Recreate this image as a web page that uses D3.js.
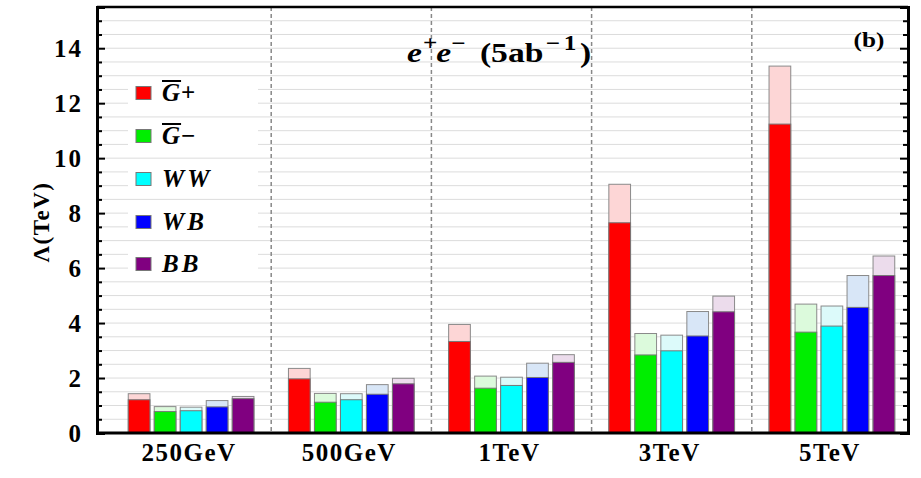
<!DOCTYPE html>
<html>
<head>
<meta charset="utf-8">
<script src="https://cdn.jsdelivr.net/npm/d3@7"></script>
<style>
  body { margin: 0; background: #fff; }
  svg { display: block; }
  svg text { font-family: "Liberation Serif", "DejaVu Serif", serif; font-weight: bold; }
</style>
</head>
<body>
<div id="chart"></div>
<script>
// collider energies (groups) and operator series
const categories = ['250GeV', '500GeV', '1TeV', '3TeV', '5TeV'];
const seriesNames = ['G+', 'G-', 'WW', 'WB', 'BB'];

// solid part of each bar (Lambda in TeV)
const lowerGplus = [1.21, 1.97, 3.33, 7.65, 11.24];
const lowerGminus = [0.78, 1.12, 1.63, 2.84, 3.67];
const lowerWW = [0.81, 1.21, 1.73, 2.99, 3.89];
const lowerWB = [0.95, 1.41, 2.02, 3.53, 4.57];
const lowerBB = [1.25, 1.79, 2.57, 4.41, 5.73];

// light part on top (upper reach)
const upperGplus = [1.43, 2.35, 3.95, 9.05, 13.35];
const upperGminus = [0.96, 1.44, 2.07, 3.62, 4.69];
const upperWW = [0.94, 1.43, 2.03, 3.56, 4.62];
const upperWB = [1.18, 1.76, 2.54, 4.42, 5.73];
const upperBB = [1.33, 1.99, 2.85, 4.98, 6.44];

const yTicks = [0, 2, 4, 6, 8, 10, 12, 14];

const lowers = [lowerGplus, lowerGminus, lowerWW, lowerWB, lowerBB];
const uppers = [upperGplus, upperGminus, upperWW, upperWB, upperBB];
const solidColors = ['#ff0000', '#00ee00', '#00ffff', '#0000ff', '#800080'];
const lightColors = ['#fdd6d6', '#dcfadc', '#dcfafa', '#d8e6f7', '#ecdcec'];

const width = 921, height = 478;
const plotLeft = 97, plotRight = 908, plotTop = 7, plotBottom = 433;
const serif = '"Liberation Serif", "DejaVu Serif", serif';

const svg = d3.select('#chart').append('svg')
    .attr('width', width)
    .attr('height', height)
    .attr('font-family', serif)
    .attr('font-weight', 'bold');

const y = d3.scaleLinear().domain([0, 15.5]).range([plotBottom, plotTop]);
const x = d3.scaleBand().domain(categories).range([111, 912]);
const xs = d3.scaleBand().domain(seriesNames).range([-65, 65]).paddingInner(0.165).paddingOuter(0.0825);

// horizontal grid every 0.5
const gridVals = d3.range(0.5, 15.5, 0.5);
svg.append('g').selectAll('line')
    .data(gridVals)
    .enter().append('line')
    .attr('x1', plotLeft).attr('x2', plotRight)
    .attr('y1', d => y(d)).attr('y2', d => y(d))
    .attr('stroke', '#dcdcdc')
    .attr('stroke-width', 1);

// dashed separators between groups
svg.append('g').selectAll('line')
    .data(categories.slice(1))
    .enter().append('line')
    .attr('x1', d => x(d)).attr('x2', d => x(d))
    .attr('y1', plotTop).attr('y2', plotBottom)
    .attr('stroke', '#888')
    .attr('stroke-width', 1.5)
    .attr('stroke-dasharray', '4,3');

// bars
seriesNames.forEach((s, i) => {
    const g = svg.append('g');
    // light upper part
    g.selectAll('.up')
        .data(categories)
        .enter().append('rect')
        .attr('x', d => x(d) + x.bandwidth() / 2 + xs(s))
        .attr('width', xs.bandwidth())
        .attr('y', (d, j) => y(uppers[i][j]))
        .attr('height', (d, j) => y(0) - y(uppers[i][j]))
        .attr('fill', lightColors[i])
        .attr('stroke', '#8a8a8a')
        .attr('stroke-width', 1);
    // solid lower part
    g.selectAll('.low')
        .data(categories)
        .enter().append('rect')
        .attr('x', d => x(d) + x.bandwidth() / 2 + xs(s))
        .attr('width', xs.bandwidth())
        .attr('y', (d, j) => y(lowers[i][j]))
        .attr('height', (d, j) => y(0) - y(lowers[i][j]))
        .attr('fill', solidColors[i])
        .attr('stroke', '#777')
        .attr('stroke-width', 1);
});

// frame: top and bottom lines
svg.append('line').attr('x1', plotLeft).attr('x2', plotRight).attr('y1', plotTop).attr('y2', plotTop)
    .attr('stroke', '#000').attr('stroke-width', 2.5);
svg.append('line').attr('x1', plotLeft - 1).attr('x2', plotRight + 1).attr('y1', plotBottom).attr('y2', plotBottom)
    .attr('stroke', '#000').attr('stroke-width', 3);

// left axis with major + minor inward ticks
const minorVals = d3.range(0.5, 15.5, 0.5).filter(v => v % 2 !== 0);
const yAxisMajor = d3.axisLeft(y).tickValues(yTicks).tickSize(-8).tickPadding(14).tickFormat(d3.format('d'));
const yAxisMinor = d3.axisLeft(y).tickValues(minorVals).tickSize(-5).tickFormat('');
const gLeft = svg.append('g').attr('transform', `translate(${plotLeft},0)`);
gLeft.call(yAxisMinor);
const gLeftMajor = svg.append('g').attr('transform', `translate(${plotLeft},0)`).call(yAxisMajor);
[gLeft, gLeftMajor].forEach(g => {
    g.attr('font-family', serif).attr('font-size', 25);
    g.select('.domain').attr('stroke', '#000').attr('stroke-width', 3);
    g.selectAll('.tick line').attr('stroke', '#000').attr('stroke-width', 2);
});
gLeftMajor.selectAll('.tick text')
    .attr('font-family', serif)
    .attr('font-weight', 'bold')
    .attr('font-size', 25)
    .attr('letter-spacing', 2)
    .attr('fill', '#000')
    .attr('dy', '0.34em');

// right axis, ticks pointing inward, no labels
const gRight = svg.append('g').attr('transform', `translate(${plotRight},0)`);
gRight.call(d3.axisRight(y).tickValues(minorVals).tickSize(-5).tickFormat(''));
const gRightMajor = svg.append('g').attr('transform', `translate(${plotRight},0)`)
    .call(d3.axisRight(y).tickValues(yTicks).tickSize(-8).tickFormat(''));
[gRight, gRightMajor].forEach(g => {
    g.select('.domain').attr('stroke', '#000').attr('stroke-width', 3);
    g.selectAll('.tick line').attr('stroke', '#000').attr('stroke-width', 2);
});

// x category labels
svg.append('g').selectAll('text')
    .data(categories)
    .enter().append('text')
    .attr('x', d => x(d) + x.bandwidth() / 2 - 2)
    .attr('y', 461)
    .attr('text-anchor', 'middle')
    .attr('font-size', 25)
    .attr('letter-spacing', 1.5)
    .text(d => d);

// y axis title
svg.append('text')
    .attr('transform', 'translate(49,222) rotate(-90)')
    .attr('text-anchor', 'middle')
    .attr('font-size', 23)
    .attr('letter-spacing', 1.5)
    .text('\u039B(TeV)');

// title e+e- (5ab^-1), stretched horizontally like the source image
const title = svg.append('text')
    .attr('transform', 'translate(407,62) scale(1.2,1)')
    .attr('font-size', 28);
title.append('tspan').attr('font-style', 'italic').text('e');
title.append('tspan').attr('font-size', 21).attr('dy', -12).attr('dx', 1).text('+');
title.append('tspan').attr('font-style', 'italic').attr('dy', 12).attr('dx', -1).text('e');
title.append('tspan').attr('font-size', 21).attr('dy', -12).text('\u2212');
title.append('tspan').attr('dy', 12).attr('dx', 12).text('(5ab');
title.append('tspan').attr('font-size', 21).attr('dy', -12).attr('dx', 2).text('\u2212');
title.append('tspan').attr('font-size', 21).attr('dx', 3).text('1');
title.append('tspan').attr('dy', 12).attr('dx', 3).text(')');

// panel label
svg.append('text')
    .attr('transform', 'translate(869,47) scale(1.2,1)')
    .attr('text-anchor', 'middle')
    .attr('font-size', 21)
    .text('(b)');

// legend
const legendY = [93, 136, 179, 222, 264];
const legend = svg.append('g');
seriesNames.forEach((s, i) => {
    const row = legend.append('g').attr('transform', `translate(0,${legendY[i]})`);
    row.append('rect')
        .attr('x', 128).attr('y', -14).attr('width', 130).attr('height', 28)
        .attr('fill', '#fff');
    row.append('rect')
        .attr('x', 136).attr('y', -6.5).attr('width', 15).attr('height', 13)
        .attr('fill', solidColors[i])
        .attr('stroke', '#777').attr('stroke-width', 1);
    const t = row.append('text')
        .attr('x', 162).attr('y', 8)
        .attr('font-size', 25)
        .attr('font-style', 'italic');
    if (s === 'G+' || s === 'G-') {
        const gSpan = t.append('tspan').text('G');
        t.append('tspan').attr('font-style', 'normal').attr('dx', 1).text(s === 'G+' ? '+' : '\u2212');
        const gw = gSpan.node().getComputedTextLength();
        row.append('line')
            .attr('x1', 162).attr('x2', 162 + gw + 1)
            .attr('y1', -12).attr('y2', -12)
            .attr('stroke', '#000').attr('stroke-width', 2);
    } else {
        t.attr('letter-spacing', 3).text(s);
    }
});
</script>
</body>
</html>
